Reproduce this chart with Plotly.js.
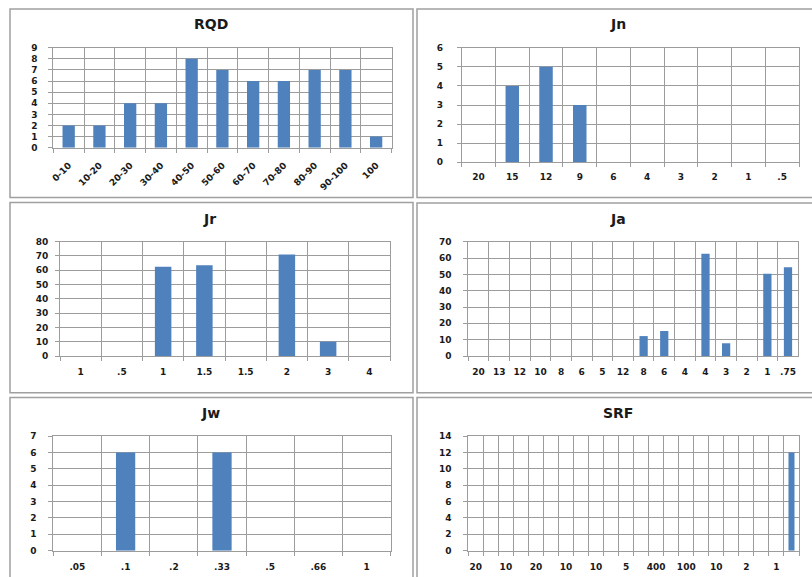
<!DOCTYPE html>
<html><head><meta charset="utf-8">
<script src="https://cdn.plot.ly/plotly-3.0.1.min.js"></script>
<style>html,body{margin:0;padding:0;background:#fff;}#chart{width:812px;height:577px;}</style>
</head><body><div id="chart"></div>
<script>
// ---- data ----
const rqdCategories = ["0-10","10-20","20-30","30-40","40-50","50-60","60-70","70-80","80-90","90-100","100"];
const rqdValues = [2,2,4,4,8,7,6,6,7,7,1];
const jnCategories = ["20","15","12","9","6","4","3","2","1",".5"];
const jnValues = [0,4,5,3,0,0,0,0,0,0];
const jrCategories = ["1",".5","1","1.5","1.5","2","3","4"];
const jrValues = [0,0,62.5,63.5,0,71,10,0];
const jaCategories = ["20","13","12","10","8","6","5","12","8","6","4","4","3","2","1",".75"];
const jaValues = [0,0,0,0,0,0,0,0,12.2,15.3,0,62.6,7.8,0,50.4,54.3];
const jwCategories = [".05",".1",".2",".33",".5",".66","1"];
const jwValues = [0,6,0,6,0,0,0];
const srfCategories = ["20","","10","","20","","10","","10","","5","","400","","100","","10","","2","","1",""];
const srfValues = [0,0,0,0,0,0,0,0,0,0,0,0,0,0,0,0,0,0,0,0,0,12];

// ---- layout helpers ----
const W = 812, H = 577;
const px = v => v / W;
const py = v => 1 - v / H;
const GRID = '#9c9c9c';
const BAR = '#4F81BD';
const FONT = 'DejaVu Sans, Arial, sans-serif';

const panels = [
  {title:'RQD', cats:rqdCategories, vals:rqdValues, ymax:9,  dtick:1,  x0:53.3, x1:391.5, y0:47.7,  y1:147.7, ystand:9,  xstand:8, angle:-45, tx:211, ty:24},
  {title:'Jn',  cats:jnCategories,  vals:jnValues,  ymax:6,  dtick:1,  x0:461.7,x1:799,   y0:47.7,  y1:162.3, ystand:12, xstand:6, angle:0,   tx:617.5, ty:24},
  {title:'Jr',  cats:jrCategories,  vals:jrValues,  ymax:80, dtick:10, x0:60,   x1:390,   y0:241.7, y1:356,   ystand:5,  xstand:7, angle:0,   tx:209, ty:218.5},
  {title:'Ja',  cats:jaCategories,  vals:jaValues,  ymax:70, dtick:10, x0:468.3,x1:798.3, y0:241.7, y1:356,   ystand:10, xstand:7, angle:0,   tx:617.5, ty:218.5},
  {title:'Jw',  cats:jwCategories,  vals:jwValues,  ymax:7,  dtick:1,  x0:53.3, x1:390.7, y0:436,   y1:550.7, ystand:10, xstand:7, angle:0,   tx:210, ty:413},
  {title:'SRF', cats:srfCategories, vals:srfValues, ymax:14, dtick:2,  x0:468.3,x1:799,   y0:436,   y1:550.7, ystand:10, xstand:7, angle:0,   tx:617.5, ty:412.5}
];

const boxes = [
  [10, 9, 413, 197.5], [417, 9, 830, 197.5],
  [10, 202.5, 413, 392.7], [417, 203, 830, 392.7],
  [10, 397.5, 413, 600], [417, 397.5, 830, 600]
];

const traces = [];
const layout = {
  width: W, height: H,
  margin: {l:0, r:0, t:0, b:0},
  paper_bgcolor: '#ffffff', plot_bgcolor: '#ffffff',
  showlegend: false,
  bargap: 0.6,
  font: {family: FONT, color: '#1a1a1a'},
  shapes: [], annotations: []
};

panels.forEach((p, i) => {
  const n = i + 1;
  const xa = n === 1 ? 'x' : 'x' + n;
  const ya = n === 1 ? 'y' : 'y' + n;
  const ids = p.cats.map((c, k) => k + '|' + c);
  traces.push({
    type: 'bar', x: ids, y: p.vals, xaxis: xa, yaxis: ya,
    marker: {color: BAR, line: {width: 0}},
    hoverinfo: 'skip'
  });
  layout['xaxis' + (n === 1 ? '' : n)] = {
    type: 'category', anchor: ya,
    domain: [px(p.x0), px(p.x1)],
    range: [-0.5, p.cats.length - 0.5],
    tickmode: 'array', tickvals: ids, ticktext: p.cats,
    tickson: 'boundaries',
    ticks: 'outside', ticklen: 4, tickcolor: GRID, tickwidth: 1,
    showgrid: true, gridcolor: GRID, gridwidth: 1,
    showline: true, linecolor: GRID, linewidth: 1, mirror: true,
    tickangle: p.angle,
    ticklabelstandoff: p.xstand,
    tickfont: {family: FONT, size: 9, color: '#1a1a1a', weight: 'bold'},
    fixedrange: true
  };
  layout['yaxis' + (n === 1 ? '' : n)] = {
    anchor: xa,
    domain: [py(p.y1), py(p.y0)],
    range: [0, p.ymax], dtick: p.dtick, tick0: 0,
    ticks: 'outside', ticklen: 4, tickcolor: GRID, tickwidth: 1,
    showgrid: true, gridcolor: GRID, gridwidth: 1,
    zeroline: false,
    showline: true, linecolor: GRID, linewidth: 1, mirror: true,
    ticklabelstandoff: p.ystand,
    tickfont: {family: FONT, size: 9, color: '#1a1a1a', weight: 'bold'},
    fixedrange: true
  };
  layout.annotations.push({
    xref: 'paper', yref: 'paper', x: px(p.tx), y: py(p.ty),
    xanchor: 'center', yanchor: 'middle', showarrow: false,
    text: '<b>' + p.title + '</b>',
    font: {family: FONT, size: 14, color: '#1a1a1a'}
  });
});

boxes.forEach(b => {
  layout.shapes.push({
    type: 'rect', xref: 'paper', yref: 'paper', layer: 'below',
    x0: px(b[0]), x1: px(b[2]), y0: py(b[3]), y1: py(b[1]),
    line: {color: '#a0a0a0', width: 1.5}, fillcolor: 'rgba(0,0,0,0)'
  });
});

Plotly.newPlot('chart', traces, layout, {staticPlot: true, displayModeBar: false});
</script>
</body></html>
